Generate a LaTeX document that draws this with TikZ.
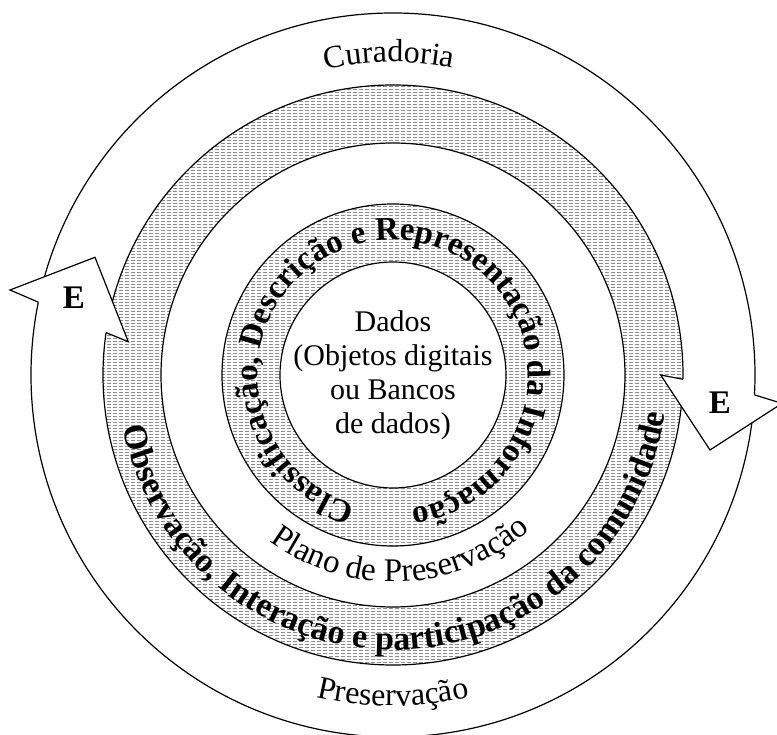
\documentclass[tikz,border=0pt]{standalone}
\usepackage{fontspec}
\setmainfont{Liberation Serif}
\usetikzlibrary{decorations.text}

\newcommand{\ringplain}{\fontsize{32}{34}\selectfont}
\newcommand{\ringplaininner}{\fontsize{33}{36}\selectfont}
\newcommand{\ringbold}{\bfseries\fontsize{33}{36}\selectfont}
\newcommand{\ringboldouter}{\bfseries\fontsize{34}{38}\selectfont}

\tikzset{
    ring line/.style={
        draw=black,
        line width=1.2pt},
    hatching/.style={
        draw=black!45,
        line width=1pt,
        dash pattern=on 4pt off 2pt},
    arrow head/.style={
        fill=white,
        draw=black,
        line width=1.2pt,
        line join=miter},
    head letter/.style={
        font=\bfseries\fontsize{33}{36}\selectfont}
}

\begin{document}
\begin{tikzpicture}[x=1pt, y=1pt]
\useasboundingbox (-393,-360) rectangle (384,375);

\begin{scope}[even odd rule]
\clip
    (0,0) circle [radius=290]
    (0,0) circle [radius=232]
    (0,0) circle [radius=171]
    (0,0) circle [radius=113];
\foreach \y in {-291,-288,...,291}{
    \draw [hatching] (-292,\y) -- (292,\y);
}
\end{scope}

\foreach \r in {362, 290, 232, 171, 113}{
    \draw [ring line] (0,0) circle [radius=\r];
}

\fill [white] (168.4:362) -- (-383,85) -- (-298,117.7) -- (-264.7,33.3) -- (171.6:290) -- cycle;
\draw [arrow head] (168.4:362) -- (-383,85) -- (-298,117.7) -- (-264.7,33.3) -- (171.6:290);
\fill [white] (-3.15:362) -- (389,-28.4) -- (317,-75) -- (267.7,0) -- (-0.85:290) -- cycle;
\draw [arrow head] (-3.15:362) -- (389,-28.4) -- (317,-75) -- (267.7,0) -- (-0.85:290);

\node [head letter] (e-left) at (-319,77.5) {E};
\node [head letter] (e-right) at (327,-27.5) {E};

\node [align=center, font=\fontsize{30}{34}\selectfont] (dados) at (0,0)
    {Dados\\(Objetos digitais\\ou Bancos\\de dados)};

\path [decorate, decoration={text along path, text align=center,
    text={|\ringplain|Curadoria}}]
    (120.7:313) arc [start angle=120.7, end angle=60.7, radius=313];
\path [decorate, decoration={text along path, text align=center,
    text={|\ringplain|Preservação}}]
    (240:331) arc [start angle=240, end angle=300, radius=331];
\path [decorate, decoration={text along path, text align=center,
    text={|\ringplaininner|Plano de Preservação}}]
    (217.5:207) arc [start angle=217.5, end angle=327.5, radius=207];
\path [decorate, decoration={text along path, text align=center,
    text={|\ringboldouter|Observação, Interação e participação da comunidade}}]
    (181.5:275) arc [start angle=181.5, end angle=361.5, radius=275];
\path [decorate, decoration={text along path, text align=center,
    text={|\ringbold|Classificação, Descrição e Representação da Informação}}]
    (260.75:135) arc [start angle=260.75, end angle=-89.25, radius=135];

\end{tikzpicture}
\end{document}
